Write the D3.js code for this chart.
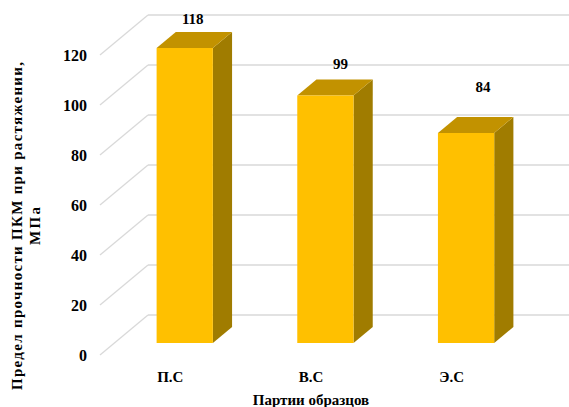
<!DOCTYPE html>
<html>
<head>
<meta charset="utf-8">
<script src="https://cdn.jsdelivr.net/npm/d3@7"></script>
<style>
  html, body { margin: 0; padding: 0; background: #fff; }
  svg { display: block; }
</style>
</head>
<body>
<svg id="chart" width="569" height="407"></svg>
<script>
// Sample batches and their tensile strength, MPa
const categories = ["П.С", "В.С", "Э.С"];
const values = [118, 99, 84];
const yTicks = [0, 20, 40, 60, 80, 100, 120];
const yTitleLines = ["Предел прочности ПКМ при растяжении,", "МПа"];
const xTitle = "Партии образцов";

const W = 569, H = 407;
const FONT = "Liberation Serif";
const svg = d3.select("#chart")
  .attr("font-family", FONT).attr("font-weight", "bold");

// Front plane of the 3D box
const frontLeft = 100, frontRight = 522;
const y = d3.scaleLinear().domain([0, 120]).range([355, 55]);
const x = d3.scaleBand().domain(categories).range([frontLeft, frontRight])
  .paddingInner(0.6).paddingOuter(0.3);

// Depth vector from front plane to back wall
const depth = { dx: 48, dy: -40 };
const barFront = 0.3, barBack = 0.7;   // bar placement within the depth

const colors = { grid: "#d9d9d9", front: "#FFC000", top: "#C29200", side: "#A07C00" };

// Gridlines: diagonal on left side wall, horizontal on back wall
const grid = svg.append("g");
yTicks.forEach(t => {
  const yf = y(t);
  grid.append("line")
    .attr("x1", frontLeft).attr("y1", yf)
    .attr("x2", frontLeft + depth.dx).attr("y2", yf + depth.dy)
    .attr("stroke", colors.grid).attr("stroke-width", 1.3);
  grid.append("line")
    .attr("x1", frontLeft + depth.dx).attr("y1", yf + depth.dy)
    .attr("x2", W).attr("y2", yf + depth.dy)
    .attr("stroke", colors.grid).attr("stroke-width", 1.3);
});

// Y axis tick labels
svg.append("g").selectAll("text").data(yTicks).join("text")
  .attr("x", 87).attr("y", d => y(d))
  .attr("dy", "0.35em").attr("text-anchor", "end")
  .attr("font-family", FONT).attr("font-weight", "bold").attr("font-size", 16)
  .text(d => d);

// 3D bars
const bars = svg.append("g").selectAll("g").data(categories.map((c, i) => ({ c, v: values[i] }))).join("g");
const fdx = depth.dx * barFront, fdy = depth.dy * barFront;
const bdx = depth.dx * barBack, bdy = depth.dy * barBack;

bars.each(function(d) {
  const g = d3.select(this);
  const x0 = x(d.c) + fdx, x1 = x0 + x.bandwidth();
  const yb = y(0) + fdy, yt = y(d.v) + fdy;
  const ddx = bdx - fdx, ddy = bdy - fdy;
  // side face
  g.append("path")
    .attr("d", `M${x1},${yt}L${x1 + ddx},${yt + ddy}L${x1 + ddx},${yb + ddy}L${x1},${yb}Z`)
    .attr("fill", colors.side);
  // top face
  g.append("path")
    .attr("d", `M${x0},${yt}L${x0 + ddx},${yt + ddy}L${x1 + ddx},${yt + ddy}L${x1},${yt}Z`)
    .attr("fill", colors.top);
  // front face
  g.append("rect")
    .attr("x", x0).attr("y", yt)
    .attr("width", x1 - x0).attr("height", yb - yt)
    .attr("fill", colors.front);
});

// Value labels above the bars
const labelNudge = [[8, -29], [15, -32], [17, -46]];
svg.append("g").selectAll("text").data(values).join("text")
  .attr("x", (d, i) => x(categories[i]) + fdx + x.bandwidth() / 2 + labelNudge[i][0])
  .attr("y", (d, i) => y(d) + fdy + labelNudge[i][1])
  .attr("dy", "0.35em").attr("text-anchor", "middle")
  .attr("font-family", FONT).attr("font-weight", "bold").attr("font-size", 15)
  .text(d => d);

// Category labels on the front plane
svg.append("g").selectAll("text").data(categories).join("text")
  .attr("x", d => x(d) + x.bandwidth() / 2)
  .attr("y", 382).attr("text-anchor", "middle")
  .attr("font-family", FONT).attr("font-weight", "bold").attr("font-size", 15)
  .text(d => d);

// Axis titles
svg.append("text")
  .attr("x", 311).attr("y", 405).attr("text-anchor", "middle")
  .attr("font-family", FONT).attr("font-weight", "bold").attr("font-size", 15)
  .text(xTitle);

// Rotated, two-line y title, spaced out to fill the axis height
const yTitleLengths = [328, 38];
svg.append("g").attr("transform", "translate(22,226) rotate(-90)")
  .selectAll("text").data(yTitleLines).join("text")
  .attr("x", 0).attr("y", (d, i) => i * 18)
  .attr("text-anchor", "middle")
  .attr("textLength", (d, i) => yTitleLengths[i])
  .attr("lengthAdjust", "spacing")
  .attr("font-family", FONT).attr("font-weight", "bold").attr("font-size", 15)
  .text(d => d);
</script>
</body>
</html>
